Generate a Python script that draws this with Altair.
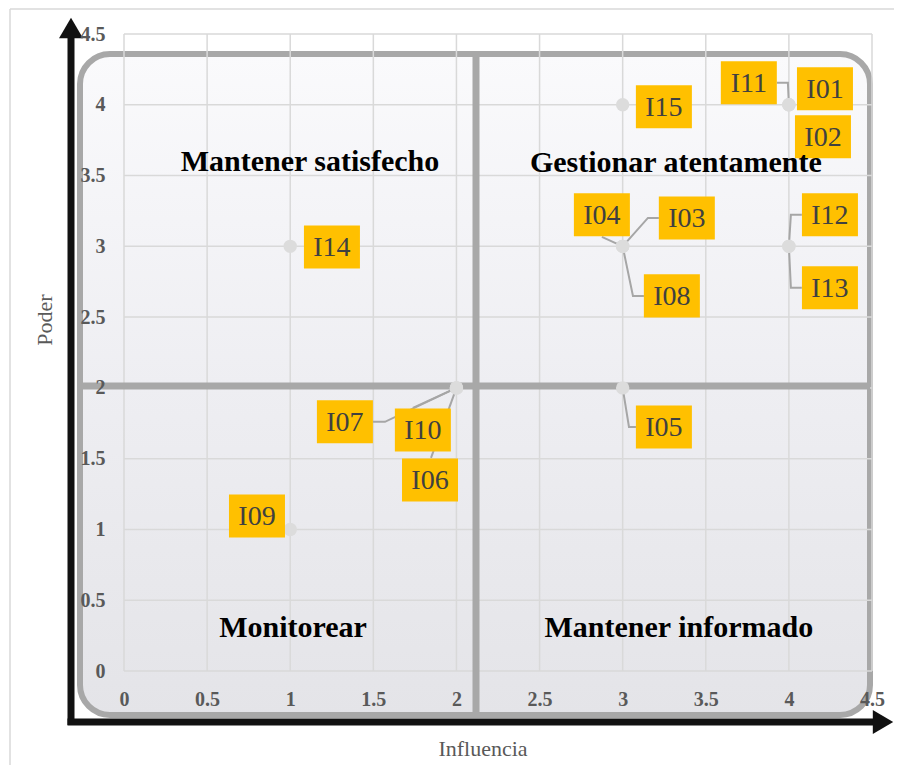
import altair as alt
import pandas as pd

# ---------------- data ----------------
stakeholders = ["I01", "I02", "I03", "I04", "I05", "I06", "I07", "I08",
                "I09", "I10", "I11", "I12", "I13", "I14", "I15"]
influencia = [4, 4, 3, 3, 3, 2, 2, 3, 1, 2, 4, 4, 4, 1, 3]
poder = [4, 4, 3, 3, 2, 2, 2, 3, 1, 2, 4, 3, 3, 3, 4]

# label placement (data units)
label_x = [4.217, 4.205, 3.386, 2.875, 3.248, 1.841, 1.329, 3.296,
           0.800, 1.798, 3.759, 4.247, 4.247, 1.251, 3.248]
label_y = [4.113, 3.774, 3.201, 3.223, 1.724, 1.350, 1.760, 2.650,
           1.095, 1.703, 4.155, 3.223, 2.707, 2.996, 3.986]

# leader lines (data units)
leader_paths = {
    "I11": [(3.928, 4.155), (3.994, 4.155), (4, 4)],
    "I04": [(2.875, 3.067), (3, 3)],
    "I03": [(3, 3), (3.152, 3.201), (3.218, 3.201)],
    "I08": [(3, 3), (3.062, 2.650), (3.128, 2.650)],
    "I12": [(4, 3), (4.012, 3.223), (4.078, 3.223)],
    "I13": [(4, 3), (4.012, 2.707), (4.078, 2.707)],
    "I07": [(1.498, 1.760), (1.570, 1.760), (2, 2)],
    "I10": [(1.738, 1.859), (2, 2)],
    "I06": [(1.847, 1.505), (2, 2)],
    "I05": [(3, 2), (3.038, 1.724), (3.080, 1.724)],
}

quadrant_names = ["Mantener satisfecho", "Gestionar atentamente",
                  "Monitorear", "Mantener informado"]
quadrant_x = [1.119, 3.320, 1.017, 3.338]
quadrant_y = [3.597, 3.590, 0.304, 0.304]

ticks = [0, 0.5, 1, 1.5, 2, 2.5, 3, 3.5, 4, 4.5]

# ---------------- tables ----------------
pts = pd.DataFrame({"id": stakeholders, "Influencia": influencia, "Poder": poder,
                    "lx": label_x, "ly": label_y})
rows = []
for name, path in leader_paths.items():
    for i, (a, b) in enumerate(path):
        rows.append({"id": name, "order": i, "x": a, "y": b})
leaders = pd.DataFrame(rows)
quad = pd.DataFrame({"name": quadrant_names, "x": quadrant_x, "y": quadrant_y})
tick_df = pd.DataFrame({"t": ticks})
one = pd.DataFrame({"k": [0]})

W, H = 748, 637
SERIF = "Liberation Serif"
xs = alt.Scale(domain=[0, 4.5], nice=False, zero=False)
ys = alt.Scale(domain=[0, 4.5], nice=False, zero=False)

# frame of the chart object
frame_h = alt.Chart(one).mark_rule(color="#d9d9d9", strokeWidth=1.5).encode(
    x=alt.value(-114), x2=alt.value(770), y=alt.value(-25))
frame_v = alt.Chart(one).mark_rule(color="#d9d9d9", strokeWidth=1.5).encode(
    x=alt.value(-114), y=alt.value(-25), y2=alt.value(735))

# rounded background panel
grad = alt.LinearGradient(
    gradient="linear", x1=0, x2=0, y1=0, y2=1,
    stops=[alt.GradientStop(color="#fafafc", offset=0),
           alt.GradientStop(color="#eeeef2", offset=0.5),
           alt.GradientStop(color="#e4e4e8", offset=1)])
panel = alt.Chart(one).mark_rect(
    fill=grad, stroke="#a8a8a8", strokeWidth=6, cornerRadius=30
).encode(x=alt.value(-44), x2=alt.value(746), y=alt.value(20), y2=alt.value(681))

# grid
grid_v = alt.Chart(tick_df).mark_rule(color="#d9d9d9", strokeWidth=1.5).encode(
    x=alt.X("t:Q", scale=xs), y=alt.value(0), y2=alt.value(H))
grid_h = alt.Chart(tick_df).mark_rule(color="#d9d9d9", strokeWidth=1.5).encode(
    y=alt.Y("t:Q", scale=ys), x=alt.value(0), x2=alt.value(W))

# quadrant cross
cross_v = alt.Chart(one).mark_rule(color="#a8a8a8", strokeWidth=7).encode(
    x=alt.value(352), y=alt.value(20), y2=alt.value(681))
cross_h = alt.Chart(one).mark_rule(color="#a8a8a8", strokeWidth=7).encode(
    y=alt.value(352), x=alt.value(-44), x2=alt.value(746))

# black arrows
arrow_v = alt.Chart(one).mark_rule(color="#111111", strokeWidth=7).encode(
    x=alt.value(-53), y=alt.value(691), y2=alt.value(0))
arrow_h = alt.Chart(one).mark_rule(color="#111111", strokeWidth=7).encode(
    y=alt.value(688), x=alt.value(-56.5), x2=alt.value(752))
head_v = alt.Chart(one).mark_point(
    shape="M0,-0.85L1,0.85L-1,0.85Z", size=576, filled=True, fill="#111111",
    opacity=1, strokeWidth=0).encode(x=alt.value(-53), y=alt.value(-6))
head_h = alt.Chart(one).mark_point(
    shape="M0.85,0L-0.85,1L-0.85,-1Z", size=576, filled=True, fill="#111111",
    opacity=1, strokeWidth=0).encode(x=alt.value(759), y=alt.value(688))

# axis titles
title_y = alt.Chart(one).mark_text(
    text="Poder", angle=270, font=SERIF, fontSize=22, color="#595959",
    align="center", baseline="middle").encode(x=alt.value(-79), y=alt.value(286))
title_x = alt.Chart(one).mark_text(
    text="Influencia", font=SERIF, fontSize=22, color="#595959",
    align="center", baseline="middle").encode(x=alt.value(359), y=alt.value(715))

# leader lines
lead = alt.Chart(leaders).mark_line(color="#a6a6a6", strokeWidth=2).encode(
    x=alt.X("x:Q", scale=xs), y=alt.Y("y:Q", scale=ys),
    detail="id:N", order="order:Q")

axis_style = dict(values=ticks, grid=False, domain=False, ticks=False, format="~g",
                  labelFont=SERIF, labelFontSize=20, labelFontWeight="bold",
                  labelColor="#595959", labelFlush=False, zindex=1)

# points (carry the axes)
points = alt.Chart(pts).mark_circle(size=180, color="#dcdcdc", opacity=1).encode(
    x=alt.X("Influencia:Q", scale=xs, title=None,
            axis=alt.Axis(labelPadding=18, **axis_style)),
    y=alt.Y("Poder:Q", scale=ys, title=None,
            axis=alt.Axis(labelPadding=19, **axis_style)))

boxes = alt.Chart(pts).mark_point(
    shape="M-1,-0.768L1,-0.768L1,0.768L-1,0.768Z", size=3136, filled=True,
    fill="#FFC000", opacity=1, strokeWidth=0).encode(
    x=alt.X("lx:Q", scale=xs), y=alt.Y("ly:Q", scale=ys))
labels = alt.Chart(pts).mark_text(
    font=SERIF, fontSize=28, color="#404040", align="center", baseline="middle",
    dy=1).encode(x=alt.X("lx:Q", scale=xs), y=alt.Y("ly:Q", scale=ys), text="id:N")

quads = alt.Chart(quad).mark_text(
    font=SERIF, fontSize=30, fontWeight="bold", color="#000000",
    align="center", baseline="middle").encode(
    x=alt.X("x:Q", scale=xs), y=alt.Y("y:Q", scale=ys), text="name:N")

chart = alt.layer(
    frame_h, frame_v, panel, grid_v, grid_h, cross_v, cross_h,
    arrow_v, arrow_h, head_v, head_h, title_y, title_x,
    lead, points, boxes, labels, quads
).properties(
    width=W, height=H,
    padding={"left": 116, "top": 26, "right": 22, "bottom": 94},
    autosize=alt.AutoSizeParams(type="none"),
    background="white",
).configure_view(stroke=None)

chart.save("out.html", embed_options={"renderer": "svg", "actions": False})
